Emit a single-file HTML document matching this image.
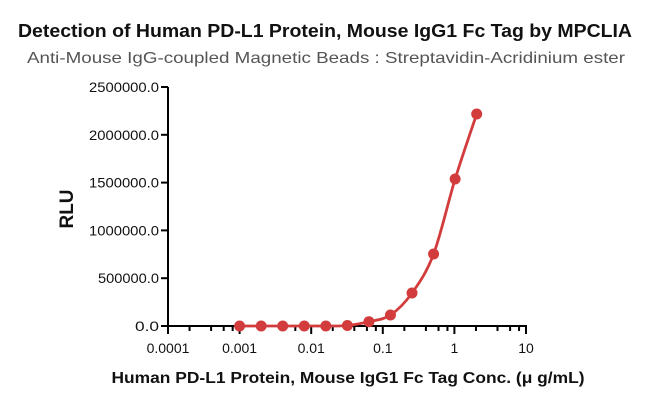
<!DOCTYPE html>
<html><head><meta charset="utf-8"><style>
html,body{margin:0;padding:0;background:#fff;width:650px;height:400px;overflow:hidden}
svg{display:block}
text{font-family:"Liberation Sans",sans-serif}
</style></head><body>
<svg id="s" width="650" height="400" xmlns="http://www.w3.org/2000/svg">
<text x="325" y="37" text-anchor="middle" font-size="18" font-weight="bold" textLength="614" lengthAdjust="spacingAndGlyphs" fill="#111">Detection of Human PD-L1 Protein, Mouse IgG1 Fc Tag by MPCLIA</text>
<text x="326" y="63" text-anchor="middle" font-size="16" textLength="598" lengthAdjust="spacingAndGlyphs" fill="#555">Anti-Mouse IgG-coupled Magnetic Beads : Streptavidin-Acridinium ester</text>
<text x="348" y="383" text-anchor="middle" font-size="16" font-weight="bold" textLength="473" lengthAdjust="spacingAndGlyphs" fill="#111">Human PD-L1 Protein, Mouse IgG1 Fc Tag Conc. (μ g/mL)</text>
<text transform="translate(73,209) rotate(-90)" text-anchor="middle" font-size="19" font-weight="bold" fill="#111">RLU</text>
<g id="ax" stroke="#000" stroke-width="2" fill="none"></g>
<g id="lab" font-size="14" fill="#111"></g>
<path id="curve" fill="none" stroke="#d23c3c" stroke-width="2.8"/>
<g id="pts" fill="#d23c3c"></g>
</svg>
<script>
var NS="http://www.w3.org/2000/svg";
function el(p,t,a,txt){var e=document.createElementNS(NS,t);for(var k in a)e.setAttribute(k,a[k]);if(txt!=null)e.textContent=txt;p.appendChild(e);return e;}
var ax=document.getElementById('ax'),lab=document.getElementById('lab');
var X0=168,DEC=71.6,Y0=326,YT=87;
function px(v){return X0+DEC*(Math.log10(v)+4);}
function py(v){return Y0-(Y0-YT)*v/2500000;}
el(ax,'line',{x1:X0,y1:YT,x2:X0,y2:Y0+1});
el(ax,'line',{x1:X0-1,y1:Y0,x2:px(10)+1,y2:Y0});
for(var i=0;i<=5;i++){var y=py(i*500000);el(ax,'line',{x1:X0-7,y1:y,x2:X0,y2:y});
el(lab,'text',{x:X0-9,y:y+5,'text-anchor':'end',textLength:(i==0?24:i==1?61:70),lengthAdjust:'spacingAndGlyphs'},(i*500000)+".0");}
var dl=["0.0001","0.001","0.01","0.1","1","10"];
for(var d=0;d<=5;d++){var x=X0+DEC*d;el(ax,'line',{x1:x,y1:Y0,x2:x,y2:Y0+8});
el(lab,'text',{x:x,y:Y0+27,'text-anchor':'middle'},dl[d]);
if(d<5)[2,4,6,8].forEach(function(m){var xm=x+DEC*Math.log10(m);el(ax,'line',{x1:xm,y1:Y0,x2:xm,y2:Y0+5,'stroke-width':2});});}
var ys=[326,326,326,326,326,325.5,321.7,315,293,254,179,114];
var P=[];for(var k=0;k<12;k++){P.push([px(0.001*Math.pow(2,k)),ys[k]]);}
var d="M"+P[0][0]+","+P[0][1];
for(var k=0;k<P.length-1;k++){var p0=P[Math.max(k-1,0)],p1=P[k],p2=P[k+1],p3=P[Math.min(k+2,P.length-1)];
d+=" C"+(p1[0]+(p2[0]-p0[0])/6)+","+(p1[1]+(p2[1]-p0[1])/6)+" "+(p2[0]-(p3[0]-p1[0])/6)+","+(p2[1]-(p3[1]-p1[1])/6)+" "+p2[0]+","+p2[1];}
document.getElementById('curve').setAttribute('d',d);
var g=document.getElementById('pts');P.forEach(function(p){el(g,'circle',{cx:p[0],cy:p[1],r:5.5});});
</script>
</body></html>
